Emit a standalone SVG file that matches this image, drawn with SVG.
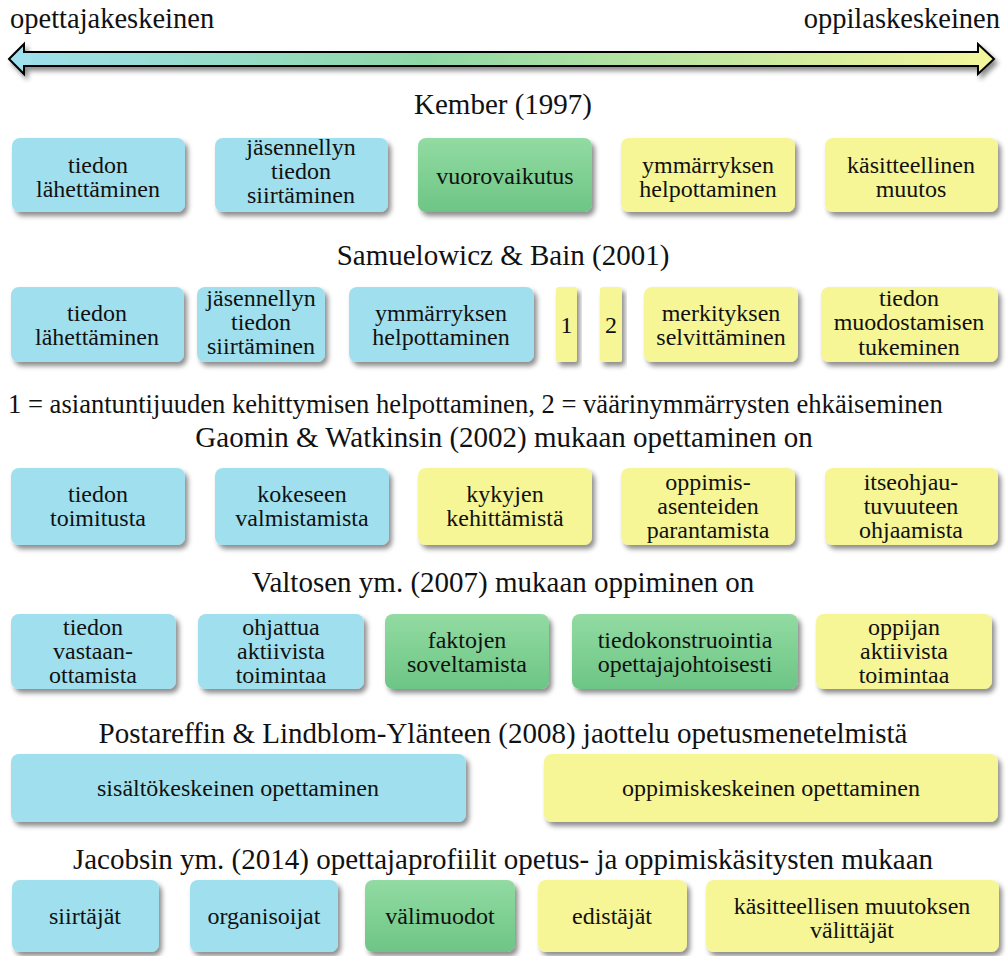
<svg xmlns="http://www.w3.org/2000/svg" width="1006" height="956" viewBox="0 0 1006 956" font-family="'Liberation Serif', 'Times New Roman', serif">
<defs>
<linearGradient id="arrowGrad" x1="0" y1="0" x2="1" y2="0">
<stop offset="0" stop-color="#9EE0EE"/>
<stop offset="0.42" stop-color="#8ED8A6"/>
<stop offset="1" stop-color="#F5F69A"/>
</linearGradient>
<linearGradient id="greenGrad" x1="0" y1="0" x2="0" y2="1">
<stop offset="0" stop-color="#92DBA2"/>
<stop offset="1" stop-color="#6DC585"/>
</linearGradient>
<filter id="shadow" x="-10%" y="-20%" width="130%" height="150%">
<feDropShadow dx="3" dy="4" stdDeviation="2.5" flood-color="#000" flood-opacity="0.45"/>
</filter>
</defs>
<style>
text{font-family:'Liberation Serif','Times New Roman',serif;fill:#111;}
.h{font-size:29px;text-anchor:middle;}
.t{font-size:24px;text-anchor:middle;}
.blue{fill:#A0E0EE;filter:url(#shadow);}
.yellow{fill:#F6F697;filter:url(#shadow);}
.green{fill:url(#greenGrad);filter:url(#shadow);}
</style>
<rect width="1006" height="956" fill="#fff"/>

<g id="scale">
<text x="10" y="28" font-size="28.5">opettajakeskeinen</text>
<text x="1000" y="28" font-size="28.5" text-anchor="end">oppilaskeskeinen</text>
<path d="M9,59 L24,44 L24,52 L978,52 L978,44 L994,59 L978,74 L978,66 L24,66 L24,74 Z" fill="url(#arrowGrad)" stroke="#000" stroke-width="2" stroke-linejoin="miter" filter="url(#shadow)"/>
</g>

<g id="headings">
<text class="h" x="503" y="114">Kember (1997)</text>
<text class="h" x="503" y="265">Samuelowicz &amp; Bain (2001)</text>
<text x="8" y="413" font-size="26.6">1 = asiantuntijuuden kehittymisen helpottaminen, 2 = väärinymmärrysten ehkäiseminen</text>
<text class="h" x="504" y="447">Gaomin &amp; Watkinsin (2002) mukaan opettaminen on</text>
<text class="h" x="503" y="592">Valtosen ym. (2007) mukaan oppiminen on</text>
<text class="h" x="503" y="743">Postareffin &amp; Lindblom-Ylänteen (2008) jaottelu opetusmenetelmistä</text>
<text class="h" x="503" y="869">Jacobsin ym. (2014) opettajaprofiilit opetus- ja oppimiskäsitysten mukaan</text>
</g>

<g id="connectors"/>

<g id="k1"><rect class="blue" x="12" y="138" width="173" height="74" rx="8"/><text class="t" x="98" y="173">tiedon</text><text class="t" x="98" y="197">lähettäminen</text></g>
<g id="k2"><rect class="blue" x="215" y="138" width="173" height="74" rx="8"/><text class="t" x="301" y="155">jäsennellyn</text><text class="t" x="301" y="179">tiedon</text><text class="t" x="301" y="203">siirtäminen</text></g>
<g id="k3"><rect class="green" x="418" y="138" width="174" height="74" rx="8"/><text class="t" x="505" y="184">vuorovaikutus</text></g>
<g id="k4"><rect class="yellow" x="621" y="138" width="174" height="74" rx="8"/><text class="t" x="708" y="173">ymmärryksen</text><text class="t" x="708" y="197">helpottaminen</text></g>
<g id="k5"><rect class="yellow" x="825" y="138" width="173" height="74" rx="8"/><text class="t" x="911" y="173">käsitteellinen</text><text class="t" x="911" y="197">muutos</text></g>

<g id="s1"><rect class="blue" x="11" y="287" width="173" height="75" rx="8"/><text class="t" x="97" y="321">tiedon</text><text class="t" x="97" y="345">lähettäminen</text></g>
<g id="s2"><rect class="blue" x="197" y="287" width="128" height="75" rx="8"/><text class="t" x="261" y="306">jäsennellyn</text><text class="t" x="261" y="330">tiedon</text><text class="t" x="261" y="354">siirtäminen</text></g>
<g id="s3"><rect class="blue" x="349" y="287" width="185" height="75" rx="8"/><text class="t" x="441" y="321">ymmärryksen</text><text class="t" x="441" y="345">helpottaminen</text></g>
<g id="s4"><rect class="yellow" x="556" y="287" width="21" height="75" rx="3"/><text class="t" x="566.5" y="333">1</text></g>
<g id="s5"><rect class="yellow" x="600" y="287" width="22" height="75" rx="3"/><text class="t" x="611" y="333">2</text></g>
<g id="s6"><rect class="yellow" x="644" y="287" width="154" height="75" rx="8"/><text class="t" x="721" y="321">merkityksen</text><text class="t" x="721" y="345">selvittäminen</text></g>
<g id="s7"><rect class="yellow" x="821" y="287" width="177" height="75" rx="8"/><text class="t" x="909" y="306">tiedon</text><text class="t" x="909" y="330">muodostamisen</text><text class="t" x="909" y="355">tukeminen</text></g>

<g id="g1"><rect class="blue" x="11" y="468" width="174" height="77" rx="8"/><text class="t" x="98" y="502">tiedon</text><text class="t" x="98" y="526">toimitusta</text></g>
<g id="g2"><rect class="blue" x="215" y="468" width="174" height="77" rx="8"/><text class="t" x="302" y="502">kokeseen</text><text class="t" x="302" y="526">valmistamista</text></g>
<g id="g3"><rect class="yellow" x="418" y="468" width="174" height="77" rx="8"/><text class="t" x="505" y="502">kykyjen</text><text class="t" x="505" y="526">kehittämistä</text></g>
<g id="g4"><rect class="yellow" x="621" y="468" width="174" height="77" rx="8"/><text class="t" x="708" y="490">oppimis-</text><text class="t" x="708" y="514">asenteiden</text><text class="t" x="708" y="538">parantamista</text></g>
<g id="g5"><rect class="yellow" x="825" y="468" width="173" height="77" rx="8"/><text class="t" x="911" y="490">itseohjau-</text><text class="t" x="911" y="514">tuvuuteen</text><text class="t" x="911" y="538">ohjaamista</text></g>

<g id="v1"><rect class="blue" x="11" y="614" width="165" height="75" rx="8"/><text class="t" x="93" y="635">tiedon</text><text class="t" x="93" y="659">vastaan-</text><text class="t" x="93" y="683">ottamista</text></g>
<g id="v2"><rect class="blue" x="198" y="614" width="166" height="75" rx="8"/><text class="t" x="281" y="635">ohjattua</text><text class="t" x="281" y="659">aktiivista</text><text class="t" x="281" y="683">toimintaa</text></g>
<g id="v3"><rect class="green" x="385" y="614" width="164" height="75" rx="8"/><text class="t" x="467" y="648">faktojen</text><text class="t" x="467" y="672">soveltamista</text></g>
<g id="v4"><rect class="green" x="572" y="614" width="226" height="75" rx="8"/><text class="t" x="685" y="648">tiedokonstruointia</text><text class="t" x="685" y="672">opettajajohtoisesti</text></g>
<g id="v5"><rect class="yellow" x="816" y="614" width="176" height="75" rx="8"/><text class="t" x="904" y="635">oppijan</text><text class="t" x="904" y="659">aktiivista</text><text class="t" x="904" y="683">toimintaa</text></g>

<g id="p1"><rect class="blue" x="11" y="754" width="455" height="68" rx="8"/><text class="t" x="238" y="796">sisältökeskeinen opettaminen</text></g>
<g id="p2"><rect class="yellow" x="544" y="754" width="454" height="68" rx="8"/><text class="t" x="771" y="796">oppimiskeskeinen opettaminen</text></g>

<g id="j1"><rect class="blue" x="12" y="880" width="147" height="72" rx="8"/><text class="t" x="85" y="924">siirtäjät</text></g>
<g id="j2"><rect class="blue" x="190" y="880" width="148" height="72" rx="8"/><text class="t" x="264" y="924">organisoijat</text></g>
<g id="j3"><rect class="green" x="365" y="880" width="150" height="72" rx="8"/><text class="t" x="440" y="924">välimuodot</text></g>
<g id="j4"><rect class="yellow" x="538" y="880" width="149" height="72" rx="8"/><text class="t" x="612" y="924">edistäjät</text></g>
<g id="j5"><rect class="yellow" x="706" y="880" width="293" height="72" rx="8"/><text class="t" x="852" y="914">käsitteellisen muutoksen</text><text class="t" x="852" y="938">välittäjät</text></g>
</svg>
